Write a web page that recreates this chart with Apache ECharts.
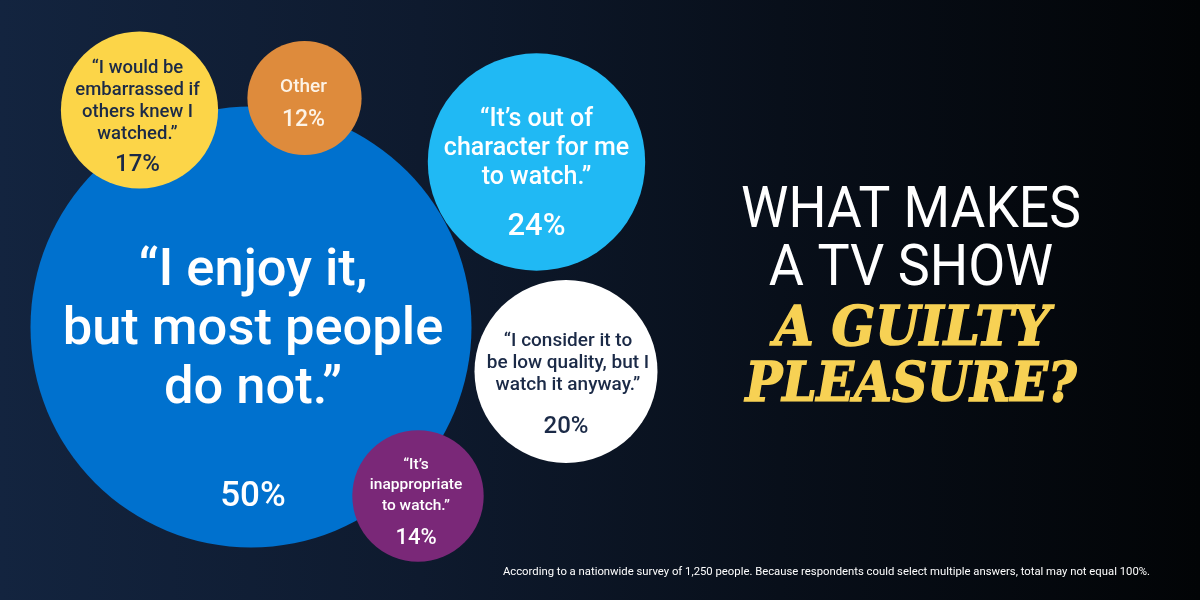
<!DOCTYPE html>
<html>
<head>
<meta charset="utf-8">
<script src="https://cdn.jsdelivr.net/npm/echarts@6/dist/echarts.min.js"></script>
<style>html,body{margin:0;padding:0;background:#0a1220}#c{width:1200px;height:600px}</style>
</head>
<body>
<div id="c"></div>
<script>
// ---- data ----
const categories = [
  '“I enjoy it,\nbut most people\ndo not.”',
  '“It’s out of\ncharacter for me\nto watch.”',
  '“I consider it to\nbe low quality, but I\nwatch it anyway.”',
  '“I would be\nembarrassed if\nothers knew I\nwatched.”',
  '“It’s\ninappropriate\nto watch.”',
  'Other'
];
const values = [50, 24, 20, 17, 14, 12];
// bubble placement in layout units (x: 0-120, y: 0-60 from top)
const xPos = [25.1, 53.65, 56.6, 13.95, 41.8, 30.45];
const yPos = [32.7, 16.2, 37.15, 11.0, 49.6, 9.8];
const titleLines = ['WHAT MAKES', 'A TV SHOW'];
const accentLines = ['A GUILTY', 'PLEASURE?'];
const footnote = 'According to a nationwide survey of 1,250 people. Because respondents could select multiple answers, total may not equal 100%.';

// ---- styles ----
const bubbleStyles = [
  {color:'#0071CE', text:'#ffffff', qSize:52.5, qLH:59, qOff:[2,4],   pSize:35, pOff:[2,170]},
  {color:'#20B9F4', text:'#ffffff', qSize:25, qLH:29, qOff:[0,-13], pSize:31, pOff:[0,65]},
  {color:'#ffffff', text:'#1b2a47', qSize:19, qLH:22, qOff:[2,-8],  pSize:24, pOff:[0,55]},
  {color:'#FCD548', text:'#1b2a47', qSize:18.5, qLH:22, qOff:[-2,-9], pSize:24, pOff:[-2,55]},
  {color:'#7A2878', text:'#ffffff', qSize:15.5, qLH:20.5, qOff:[-2,-10.5], pSize:22, pOff:[-2,42]},
  {color:'#DE8B3C', text:'#fdf3e6', qSize:19, qLH:22, qOff:[-1,-11], pSize:23, pOff:[-1,22]}
];
const FONT = 'Roboto';
const sizeOf = v => 8.6 * v + 11;

const circleData = values.map((v, i) => ({
  value: [xPos[i], yPos[i], v],
  itemStyle: {color: bubbleStyles[i].color, opacity: 1},
  label: {
    show: true, position: 'inside', formatter: categories[i],
    color: bubbleStyles[i].text, fontSize: bubbleStyles[i].qSize,
    lineHeight: bubbleStyles[i].qLH, fontFamily: FONT, fontWeight: 500,
    offset: bubbleStyles[i].qOff, align: 'center'
  }
}));
const pctData = values.map((v, i) => ({
  value: [xPos[i], yPos[i], v],
  label: {
    show: true, position: 'inside', formatter: v + '%',
    color: bubbleStyles[i].text, fontSize: bubbleStyles[i].pSize,
    fontFamily: FONT, fontWeight: 500, offset: bubbleStyles[i].pOff
  }
}));

const titleStyle = {fill: '#ffffff', fontSize: 58, fontFamily: FONT, fontWeight: 400, align: 'center', verticalAlign: 'middle', textAlign: 'center', textVerticalAlign: 'middle'};
const accentStyle = {fill: '#F7D154', stroke: '#F7D154', lineWidth: 1.6, fontSize: 55, fontFamily: 'DejaVu Serif', fontWeight: 'bold', fontStyle: 'italic', align: 'center', verticalAlign: 'middle', textAlign: 'center', textVerticalAlign: 'middle'};

const chart = echarts.init(document.getElementById('c'), null, {renderer: 'canvas'});
chart.setOption({
  animation: false,
  backgroundColor: {
    type: 'linear', x: 0, y: 0, x2: 1, y2: 0,
    colorStops: [
      {offset: 0, color: '#13243f'},
      {offset: 0.35, color: '#0e1a2e'},
      {offset: 0.65, color: '#080f1a'},
      {offset: 1, color: '#020406'}
    ]
  },
  grid: {left: 0, right: 0, top: 0, bottom: 0},
  xAxis: {type: 'value', min: 0, max: 120, show: false},
  yAxis: {type: 'value', min: 0, max: 60, inverse: true, show: false},
  tooltip: {show: false},
  series: [
    {
      type: 'scatter', symbol: 'circle',
      symbolSize: val => sizeOf(val[2]),
      itemStyle: {opacity: 1},
      data: circleData, silent: true, z: 2,
      emphasis: {disabled: true}
    },
    {
      type: 'scatter', symbol: 'circle', symbolSize: 1,
      itemStyle: {color: 'rgba(0,0,0,0)', opacity: 1},
      data: pctData, silent: true, z: 3,
      emphasis: {disabled: true}
    }
  ],
  graphic: [
    {type: 'text', x: 911, y: 212, scaleX: 0.92, style: Object.assign({text: titleLines[0]}, titleStyle)},
    {type: 'text', x: 911, y: 270, scaleX: 0.93, style: Object.assign({text: titleLines[1]}, titleStyle)},
    {type: 'text', x: 912, y: 331, scaleX: 0.93, style: Object.assign({text: accentLines[0]}, accentStyle)},
    {type: 'text', x: 911, y: 387, scaleX: 0.89, style: Object.assign({text: accentLines[1]}, accentStyle)},
    {type: 'text', x: 1150, y: 572, style: {text: footnote, fill: '#ffffff', fontSize: 11.3, fontFamily: FONT, fontWeight: 400, align: 'right', verticalAlign: 'middle', textAlign: 'right', textVerticalAlign: 'middle'}}
  ]
});
</script>
</body>
</html>
